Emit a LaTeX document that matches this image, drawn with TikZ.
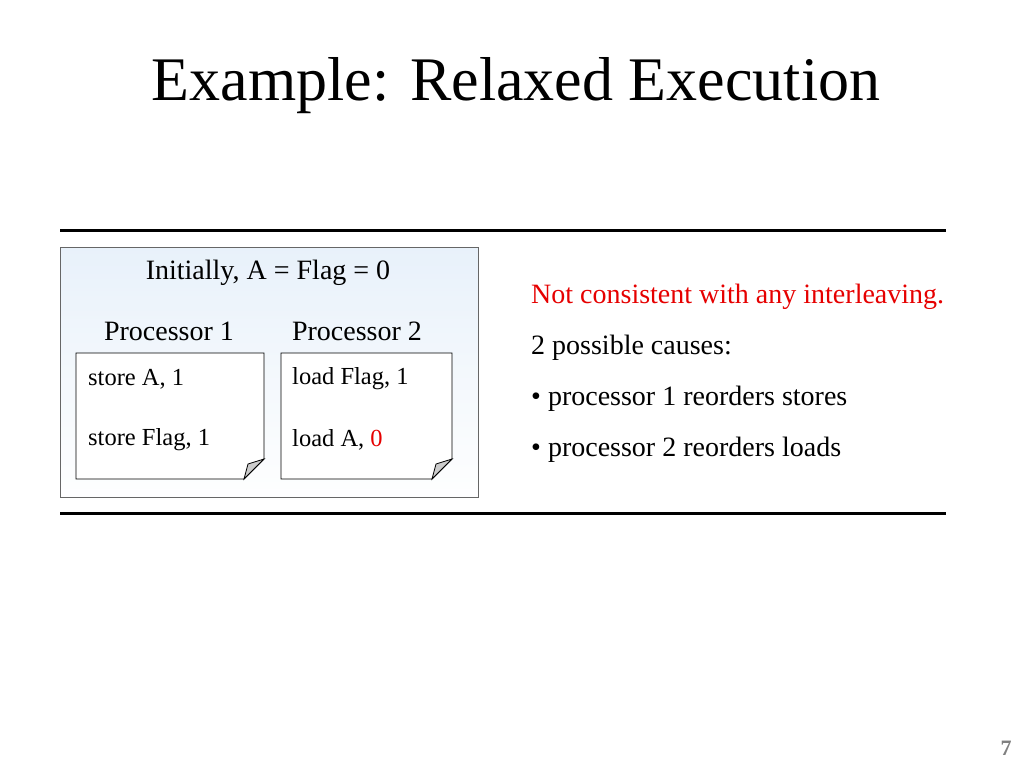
\documentclass[tikz,border=0pt]{standalone}
\usepackage{fontspec}
\setmainfont{Liberation Serif}
\usetikzlibrary{shadings}
\definecolor{bluegrad}{RGB}{220,234,248}
\definecolor{redtxt}{RGB}{230,0,0}
\tikzset{
  rule/.style={line width=3pt},
  notebox/.style={draw=black, fill=white, line width=0.8pt},
  fold/.style={draw=black, fill=gray!40, line width=0.8pt},
  body/.style={font=\fontsize{28}{33}\selectfont, inner sep=0pt},
  small/.style={font=\fontsize{24.5}{29}\selectfont, inner sep=0pt, anchor=west},
}
\begin{document}
\begin{tikzpicture}[x=1pt,y=-1pt]
\useasboundingbox (0,0) rectangle (1024,768);
\fill[white] (0,0) rectangle (1024,768);
% title
\node[inner sep=0pt, font=\fontsize{62}{70}\selectfont] (title) at (516,86) {Example: Relaxed Execution};
% rules
\coordinate (r1a) at (60,230); \coordinate (r1b) at (946,230);
\coordinate (r2a) at (60,513); \coordinate (r2b) at (946,513);
\draw[rule] (r1a) -- (r1b);
\draw[rule] (r2a) -- (r2b);
% outer box
\shade[left color=bluegrad, right color=white!96!bluegrad, shading angle=0] (60,247) rectangle (478,497);
\shade[top color=bluegrad!30, bottom color=white, opacity=0.5] (60,247) rectangle (478,497);
\draw[draw=gray!80!black, line width=0.8pt] (60,247) rectangle (478,497);
\node[body] (init) at (268,273) {Initially, A = Flag = 0};
\node[body] (p1) at (169,331) {Processor 1};
\node[body] (p2) at (357,331) {Processor 2};
% note 1
\draw[notebox] (76,353) -- (264,353) -- (264,459) -- (244,479) -- (76,479) -- cycle;
\draw[fold] (264,459) -- (248,464) -- (244,479) -- cycle;
% note 2
\draw[notebox] (281,353) -- (452,353) -- (452,459) -- (432,479) -- (281,479) -- cycle;
\draw[fold] (452,459) -- (436,464) -- (432,479) -- cycle;
\node[small] (s1) at (88,379) {store A, 1};
\node[small] (s2) at (88,440) {store Flag, 1};
\node[small] (l1) at (292,379) {load Flag, 1};
\node[small] (l2) at (292,440) {load A, \textcolor{redtxt}{0}};
% right text
\node[body, anchor=west, text=redtxt] (nc) at (531,297) {Not consistent with any interleaving.};
\node[body, anchor=west] (pc) at (531,348) {2 possible causes:};
\node[body, anchor=west] (c1) at (531,399) {• processor 1 reorders stores};
\node[body, anchor=west] (c2) at (531,450) {• processor 2 reorders loads};
% page number
\node[inner sep=0pt, text=gray, font=\fontsize{22}{26}\selectfont\bfseries] (pg) at (1006,748) {7};
\end{tikzpicture}
\end{document}
